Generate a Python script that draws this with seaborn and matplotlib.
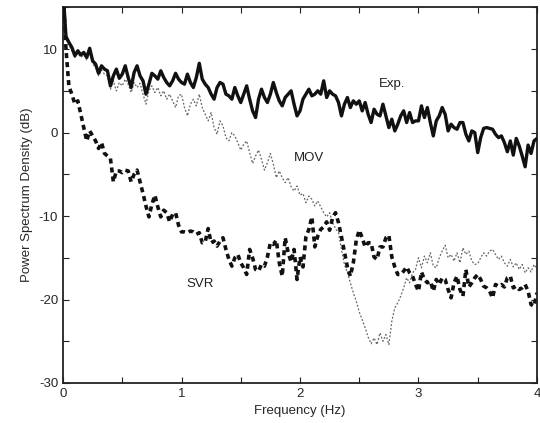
import numpy as np
import pandas as pd
import matplotlib
matplotlib.use("Agg")
import matplotlib.pyplot as plt
import seaborn as sns
from matplotlib.ticker import MultipleLocator

# Frequency grid (Hz), step 0.025
freq = [round(i * 0.025, 3) for i in range(161)]

exp_db = [
    17, 11.5, 10.8, 10.2, 9.2, 9.8, 9.3, 9.6, 9.0, 10.1,
    8.6, 8.2, 7.1, 8.0, 7.6, 7.4, 5.6, 6.8, 7.6, 6.5,
    7.0, 8.0, 6.6, 5.4, 7.2, 8.0, 6.8, 6.2, 4.6, 5.8,
    7.1, 6.8, 6.4, 7.4, 6.6, 6.0, 5.6, 6.2, 7.1, 6.4,
    6.0, 5.8, 7.0, 6.0, 5.4, 6.6, 8.3, 6.4, 5.8, 5.4,
    4.6, 4.0, 5.4, 6.0, 5.8, 4.6, 4.4, 4.0, 5.4, 4.4,
    3.6, 4.6, 5.6, 4.0, 2.6, 1.8, 4.0, 5.2, 4.2, 3.6,
    4.6, 6.0, 4.8, 3.8, 3.2, 4.2, 4.6, 5.0, 3.4, 2.0,
    2.6, 4.0, 4.6, 5.2, 4.4, 4.6, 5.0, 4.6, 6.2, 4.2,
    5.0, 4.6, 4.4, 3.6, 2.0, 3.4, 4.2, 3.0, 3.8, 3.4,
    3.8, 2.6, 3.6, 2.2, 1.2, 2.8, 2.2, 2.0, 3.4, 2.0,
    0.6, 1.6, 0.2, 1.0, 2.0, 2.6, 1.2, 2.4, 1.2, 1.4,
    1.4, 3.2, 1.8, 3.0, 1.2, -0.4, 1.4, 2.0, 3.0, 2.2,
    0.2, 1.0, 0.6, 0.4, 1.2, 1.2, -0.2, -1.0, 0.2, 0.0,
    -2.4, -0.6, 0.5, 0.6, 0.5, 0.4, -0.2, -0.6, -0.4, -1.2,
    -2.3, -1.0, -2.7, -0.7, -1.6, -2.8, -4.1, -1.5, -2.5, -1.0,
    -0.7,
]

mov_db = [
    17, 11.2, 10.5, 9.8, 9.0, 9.5, 9.0, 9.3, 8.7, 9.6,
    8.2, 7.8, 6.8, 7.5, 7.0, 6.8, 5.2, 6.2, 5.0, 6.0,
    5.6, 6.4, 5.8, 4.8, 6.0, 5.4, 5.9, 4.6, 3.4, 5.0,
    5.6, 4.8, 5.4, 4.4, 5.0, 4.0, 4.6, 3.8, 3.0, 4.4,
    4.6, 3.0, 2.0, 3.4, 4.0, 3.2, 4.6, 3.0, 2.2, 1.4,
    2.4, 0.6, -0.2, 1.4, 0.8, -0.6, -1.0, 0.0, -0.4, -1.2,
    -2.1, -1.4, -1.0, -2.4, -3.7, -2.8, -2.1, -3.2, -4.5, -3.6,
    -2.5, -3.8, -5.4, -4.6, -5.4, -6.0, -5.4, -6.5, -7.0, -6.4,
    -7.5, -7.3, -8.4, -7.6, -8.0, -8.8, -8.2, -8.9, -9.6, -10.1,
    -9.6, -10.8, -11.5, -12.0, -14.0, -15.8, -16.8, -18.0, -19.2, -20.2,
    -21.5, -22.4, -23.4, -24.5, -25.3, -24.6, -25.4, -24.0, -25.0, -24.2,
    -25.4, -22.6, -21.0, -20.4, -19.6, -18.6, -17.4, -18.0, -16.8, -16.4,
    -15.0, -16.2, -14.8, -15.6, -14.4, -16.0, -16.2, -15.0, -14.2, -13.5,
    -15.0, -14.6, -15.4, -14.4, -15.6, -13.8, -14.6, -14.2, -15.4, -15.8,
    -15.7, -15.0, -14.4, -14.8, -14.2, -14.0, -14.6, -15.2, -14.8, -15.6,
    -16.0, -15.2, -16.1, -15.6, -16.4, -15.8, -16.8, -16.2, -16.7, -15.8,
    -16.4,
]

svr_db = [
    17, 10.0, 5.5, 4.6, 3.4, 3.8, 2.2, 0.6, -1.0, 0.2,
    -0.4, -1.0, -1.9, -1.2, -2.5, -2.8, -3.1, -5.9, -4.6, -4.6,
    -4.8, -4.5, -4.6, -5.9, -5.0, -4.5, -5.9, -7.3, -8.8, -10.1,
    -8.6, -7.5, -8.9, -10.1, -9.3, -9.6, -10.7, -9.8, -9.6, -11.1,
    -11.9, -11.9, -12.0, -11.8, -11.9, -12.2, -12.0, -13.2, -13.1, -11.5,
    -13.2, -13.0, -13.6, -13.0, -12.6, -14.0, -15.2, -16.0, -15.0, -14.6,
    -15.6, -16.2, -17.0, -14.0, -15.0, -16.4, -16.6, -15.8, -16.0, -14.9,
    -13.2, -13.4, -12.9, -15.6, -17.2, -12.6, -14.4, -15.5, -14.0, -17.6,
    -14.9, -16.1, -12.5, -11.6, -10.1, -13.7, -12.4, -11.6, -11.3, -10.7,
    -11.7, -10.2, -9.6, -10.8, -12.5, -14.3, -16.1, -17.2, -15.6, -12.9,
    -11.7, -12.6, -13.7, -13.2, -13.2, -14.9, -15.2, -13.7, -13.7, -12.6,
    -12.3, -14.9, -16.1, -17.0, -17.0, -16.6, -16.1, -16.8, -17.2, -18.2,
    -19.0, -16.7, -17.6, -18.0, -17.8, -19.0, -17.6, -18.2, -17.4, -17.6,
    -18.8, -19.8, -18.0, -17.2, -18.8, -19.6, -16.4, -18.5, -18.0, -17.4,
    -17.0, -17.6, -18.4, -18.6, -19.0, -19.8, -18.2, -18.4, -18.2, -18.5,
    -17.4, -17.2, -18.6, -18.4, -18.8, -18.6, -18.2, -19.0, -20.6, -20.8,
    -19.2,
]

x_ticks = [0, 1, 2, 3, 4]
y_ticks = [-30, -20, -10, 0, 10]

sns.set_style("ticks")
plt.rcParams['font.family'] = ['Liberation Sans', 'DejaVu Sans']
plt.rcParams['axes.unicode_minus'] = False

df = pd.DataFrame({"freq": freq, "Exp.": exp_db, "MOV": mov_db, "SVR": svr_db})

fig = plt.figure(figsize=(5.4, 4.23), dpi=100)
ax = fig.add_axes([0.1167, 0.0946, 0.8777, 0.888])

sns.lineplot(data=df, x="freq", y="MOV", ax=ax, color="#666666", lw=0.9,
             linestyle=(0, (1.5, 1.5)), zorder=1)
sns.lineplot(data=df, x="freq", y="SVR", ax=ax, color="#111111", lw=2.6,
             linestyle=(0, (1.4, 1.1)), zorder=2)
sns.lineplot(data=df, x="freq", y="Exp.", ax=ax, color="#111111", lw=2.4,
             zorder=3)

ax.set_xlim(0, 4)
ax.set_ylim(-30, 15)
ax.set_xticks(x_ticks)
ax.set_yticks(y_ticks)
ax.xaxis.set_minor_locator(MultipleLocator(0.5))
ax.yaxis.set_minor_locator(MultipleLocator(5))
ax.tick_params(which="both", direction="in", top=True, right=True,
               labelsize=9.5, color="#222222")
ax.tick_params(which="major", length=4, width=0.8)
ax.tick_params(which="minor", length=4, width=0.8)
for s in ax.spines.values():
    s.set_linewidth(1.3)
    s.set_color("#222222")

ax.set_xlabel("Frequency (Hz)", fontsize=9.5, labelpad=4)
ax.set_ylabel("Power Spectrum Density (dB)", fontsize=9.5, labelpad=4)

ax.text(2.78, 5.8, "Exp.", fontsize=9.5, ha="center", va="center", color="#222222")
ax.text(2.08, -3.1, "MOV", fontsize=9.5, ha="center", va="center", color="#222222")
ax.text(1.16, -18.2, "SVR", fontsize=9.5, ha="center", va="center", color="#222222")

fig.savefig("out.png", dpi=100)
